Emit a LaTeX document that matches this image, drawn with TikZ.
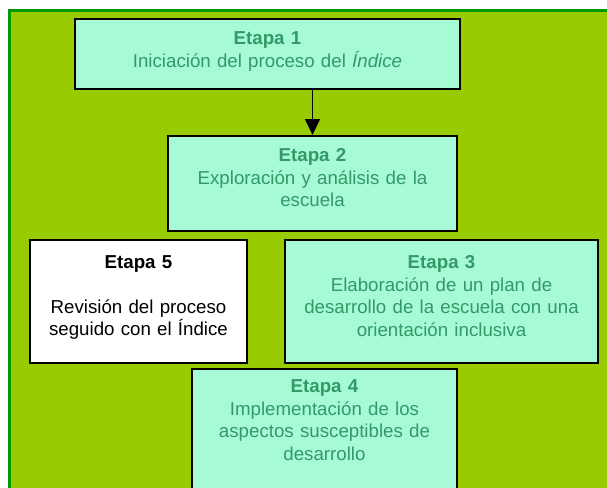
\documentclass[tikz,border=0pt]{standalone}
\usepackage{fontspec}
\setmainfont{Liberation Sans}
\usetikzlibrary{arrows.meta}
\definecolor{verdefondo}{HTML}{99CC00}
\definecolor{verdeborde}{HTML}{009900}
\definecolor{aguamarina}{HTML}{A6FBD6}
\definecolor{verdetexto}{HTML}{339966}
\tikzset{
  etapa/.style={draw=black, line width=1.6pt, fill=aguamarina, text=verdetexto,
    inner sep=0pt, align=center, anchor=north, font=\fontsize{18.7}{22.5}\selectfont},
  flecha/.style={line width=1.6pt, -{Triangle[length=16pt,width=15pt]}}
}
\begin{document}
\begin{tikzpicture}[x=1pt,y=-1pt]
\useasboundingbox (0,0) rectangle (607,487);
\clip (0,0) rectangle (607,487);
\draw[fill=verdefondo, draw=verdeborde, line width=2.5pt] (9.5,10.5) rectangle (640,520);
\node[etapa, text width=385pt, text height=26pt, text depth=44pt] (e1) at (267.5,18)
  {\textbf{Etapa 1}\\Iniciación del proceso del \textit{Índice}};
\node[etapa, text width=289pt, text height=26pt, text depth=69pt] (e2) at (312.5,135)
  {\textbf{Etapa 2}\\Exploración y análisis de la\\escuela};
\node[etapa, fill=white, text=black, text width=217pt, text height=29pt, text depth=94pt] (e5) at (138.5,239)
  {\textbf{Etapa 5}\\[22pt]Revisión del proceso\\seguido con el Índice};
\node[etapa, text width=313pt, text height=29pt, text depth=94pt] (e3) at (441.5,239)
  {\textbf{Etapa 3}\\Elaboración de un plan de\\desarrollo de la escuela con una\\orientación inclusiva};
\node[etapa, text width=265pt, text height=24pt, text depth=130pt] (e4) at (324.5,368)
  {\textbf{Etapa 4}\\Implementación de los\\aspectos susceptibles de\\desarrollo};
\draw[flecha] (e2.north |- e1.south) -- (e2.north);
\end{tikzpicture}
\end{document}
